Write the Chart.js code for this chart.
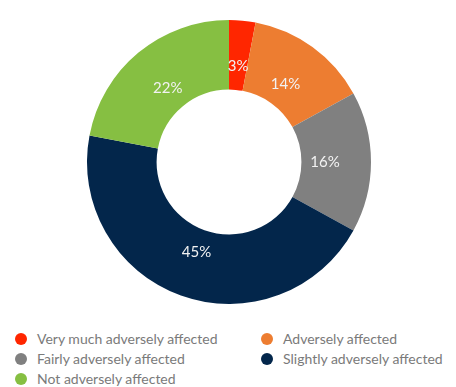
<!DOCTYPE html>
<html>
<head>
<meta charset="utf-8">
<script src="https://cdn.jsdelivr.net/npm/chart.js@4"></script>
<style>
    html, body { margin: 0; padding: 0; background: #fff; }
    body { width: 456px; height: 387px; position: relative; overflow: hidden; font-family: Lato, sans-serif; }
    .chart-box { position: absolute; left: 1px; top: 20px; width: 456px; height: 284px; }
    .legend { position: absolute; left: 0; top: 329px; width: 456px; }
    .legend-item { position: absolute; height: 20px; line-height: 20px; font-size: 14px; color: #7a7a7a; white-space: nowrap; }
    .legend-dot { position: absolute; left: 0; top: 4px; width: 12px; height: 12px; border-radius: 50%; }
    .legend-text { position: absolute; left: 22px; top: 0; }
</style>
</head>
<body>
<div class="chart-box"><canvas id="donut"></canvas></div>
<div class="legend" id="legend"></div>

<script>
// ===== Data =====
const categories = [
    'Very much adversely affected',
    'Adversely affected',
    'Fairly adversely affected',
    'Slightly adversely affected',
    'Not adversely affected'
];
const shares = [3, 14, 16, 45, 22];
const sliceColors = ['#FF2600', '#ED7D31', '#808080', '#03264B', '#86BF42'];

// how far into the ring (from the hole outward) the labels sit
const labelDepth = 0.34;

// ===== Percent labels inside the ring =====
const sliceLabels = {
    id: 'sliceLabels',
    afterDatasetsDraw(chart) {
        const ctx = chart.ctx;
        const meta = chart.getDatasetMeta(0);
        ctx.save();
        ctx.font = '15px Lato, sans-serif';
        ctx.fillStyle = '#F2F2F2';
        ctx.textAlign = 'center';
        ctx.textBaseline = 'middle';
        meta.data.forEach((arc, i) => {
            const p = arc.getProps(['x', 'y', 'startAngle', 'endAngle', 'innerRadius', 'outerRadius'], true);
            const angle = (p.startAngle + p.endAngle) / 2;
            const r = p.innerRadius + (p.outerRadius - p.innerRadius) * labelDepth;
            ctx.fillText(shares[i] + '%', p.x + Math.cos(angle) * r, p.y + Math.sin(angle) * r);
        });
        ctx.restore();
    }
};

new Chart(document.getElementById('donut'), {
    type: 'doughnut',
    data: {
        labels: categories,
        datasets: [{
            data: shares,
            backgroundColor: sliceColors,
            borderWidth: 0
        }]
    },
    options: {
        responsive: true,
        maintainAspectRatio: false,
        animation: false,
        cutout: '51%',
        layout: { padding: 0 },
        plugins: {
            legend: { display: false },
            tooltip: { enabled: false }
        }
    },
    plugins: [sliceLabels]
});

// ===== Legend, two columns =====
const legend = document.getElementById('legend');
categories.forEach((name, i) => {
    const item = document.createElement('div');
    item.className = 'legend-item';
    item.style.left = (i % 2 === 0 ? 15 : 261) + 'px';
    item.style.top = (Math.floor(i / 2) * 20) + 'px';
    item.innerHTML = `<span class="legend-dot" style="background:${sliceColors[i]}"></span><span class="legend-text">${name}</span>`;
    legend.appendChild(item);
});
</script>
</body>
</html>
